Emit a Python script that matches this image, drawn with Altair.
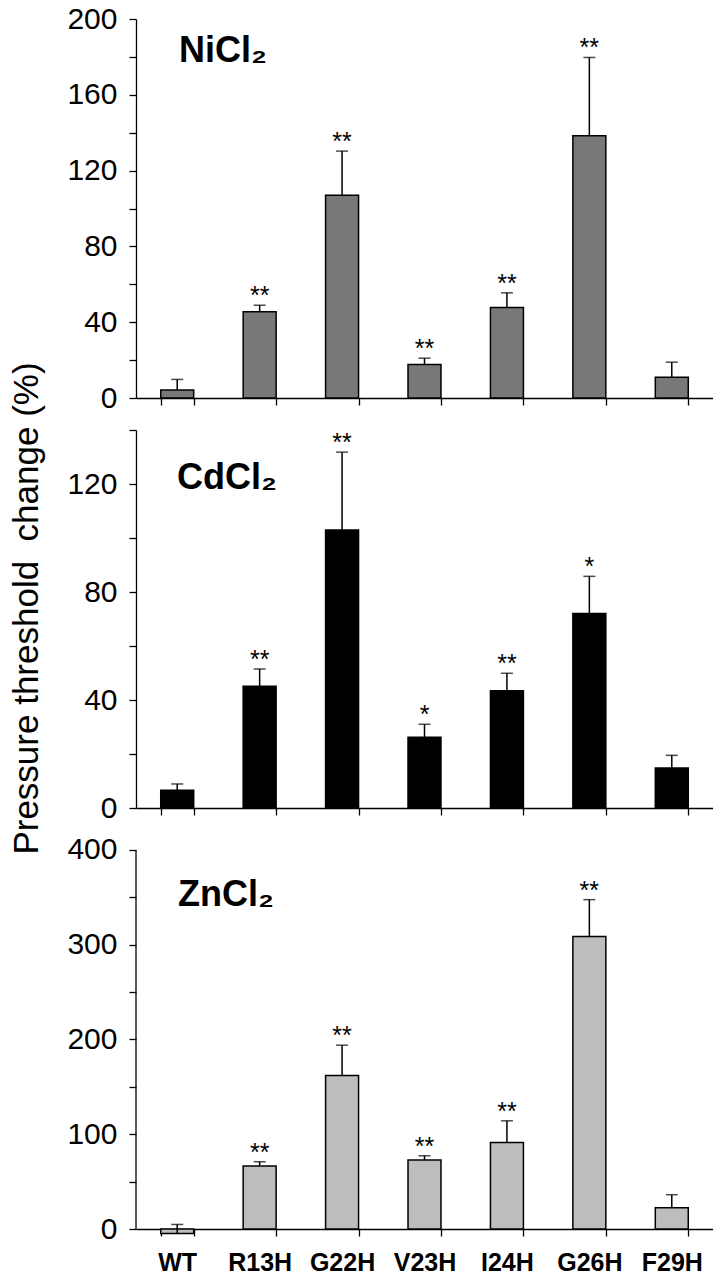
import altair as alt
import pandas as pd

categories = ["WT", "R13H", "G22H", "V23H", "I24H", "G26H", "F29H"]

ni_mean = [4.2, 45.5, 107.0, 17.7, 47.8, 138.4, 11.0]
ni_err = [5.6, 3.5, 23.3, 3.3, 7.7, 41.3, 7.9]
ni_stars = ["", "**", "**", "**", "**", "**", ""]

cd_mean = [6.6, 45.1, 103.0, 26.2, 43.4, 72.0, 14.8]
cd_err = [2.3, 6.4, 28.8, 4.8, 6.5, 13.8, 4.7]
cd_stars = ["", "**", "**", "*", "**", "*", ""]

zn_mean = [-4.7, 66.5, 162.0, 72.8, 91.4, 308.6, 22.5]
zn_err = [9.5, 4.6, 32.0, 4.5, 22.8, 39.0, 13.7]
zn_stars = ["", "**", "**", "**", "**", "**", ""]

FONT = "Liberation Sans"
W = 577


def panel(name, mean, err, stars, color, axis_top, ymax, height,
          tick_step, label_step, label_pos, last=False, ytitle=None):
    df = pd.DataFrame({
        "mutant": categories,
        "mean": mean,
        "top": [m + e for m, e in zip(mean, err)],
        "stars": stars,
    })
    base = alt.Chart(df)

    x_axis = alt.Axis(title=None, labels=last, labelAngle=0, tickBand="extent",
                      tickSize=7, tickWidth=1.3, tickColor="black",
                      domainColor="black", domainWidth=1.3,
                      labelFont=FONT, labelFontSize=25, labelFontWeight="bold",
                      labelColor="black", labelPadding=14)
    x = alt.X("mutant:N", sort=categories, axis=x_axis,
              scale=alt.Scale(paddingInner=0.6, paddingOuter=0.3))

    y_args = dict(
        values=list(range(0, axis_top + 1, tick_step)),
        labelExpr=f"datum.value % {label_step} === 0 ? datum.label : ''",
        tickSize=7, tickWidth=1.3, tickColor="black",
        domain=(ymax == axis_top), domainColor="black", domainWidth=1.3,
        grid=False, labelFont=FONT, labelFontSize=30, labelColor="black",
        labelPadding=12, title=ytitle,
    )
    if ytitle:
        y_args.update(titleFont=FONT, titleFontSize=35, titleFontWeight="normal",
                      titleColor="black", titleX=-92, titleY=178)
    y_axis = alt.Axis(**y_args)
    y_scale = alt.Scale(domain=[0, ymax], nice=False, zero=False)

    bars = base.mark_bar(color=color, stroke="black", strokeWidth=1.5).encode(
        x=x, y=alt.Y("mean:Q", scale=y_scale, axis=y_axis)
    )
    err_line = base.mark_rule(color="black", strokeWidth=1.5).encode(
        x=x, y=alt.Y("mean:Q", scale=y_scale, axis=y_axis), y2="top:Q"
    )
    cap = base.mark_tick(color="black", thickness=1.5, size=12).encode(
        x=x, y=alt.Y("top:Q", scale=y_scale, axis=y_axis)
    )
    star_txt = base.mark_text(font=FONT, fontSize=25, baseline="alphabetic",
                              dy=-1, color="black").encode(
        x=x, y=alt.Y("top:Q", scale=y_scale, axis=y_axis), text="stars:N"
    )
    label = alt.Chart(pd.DataFrame({"t": [name]})).mark_text(
        font=FONT, fontSize=36, fontWeight="bold", align="left",
        baseline="alphabetic", color="black"
    ).encode(x=alt.value(label_pos[0]), y=alt.value(label_pos[1]), text="t:N")

    layers = [bars, err_line, cap, star_txt, label]
    if ymax != axis_top:
        # axis line stops at the last tick, the plot area goes a bit higher
        yline = alt.Chart(pd.DataFrame({"y0": [0], "y1": [axis_top]})).mark_rule(
            color="black", strokeWidth=1.3
        ).encode(x=alt.value(0), y=alt.Y("y0:Q", scale=y_scale, axis=y_axis), y2="y1:Q")
        layers.append(yline)
    return alt.layer(*layers).properties(width=W, height=height)


p1 = panel("NiCl₂", ni_mean, ni_err, ni_stars, "#787878", 200, 200, 379,
           20, 40, (43, 43))
p2 = panel("CdCl₂", cd_mean, cd_err, cd_stars, "#000000", 140, 140, 378,
           20, 40, (41, 59), ytitle="Pressure threshold\u00a0 change (%)")
p3 = panel("ZnCl₂", zn_mean, zn_err, zn_stars, "#bdbdbd", 400, 410.55, 389,
           50, 100, (42, 66), last=True)

chart = alt.vconcat(
    p1, p2, p3, spacing=32, bounds="flush",
    padding={"top": -4, "left": 0, "right": 0, "bottom": -3},
).configure_view(stroke=None)

chart.save("out.html", embed_options={"renderer": "svg", "actions": False})
